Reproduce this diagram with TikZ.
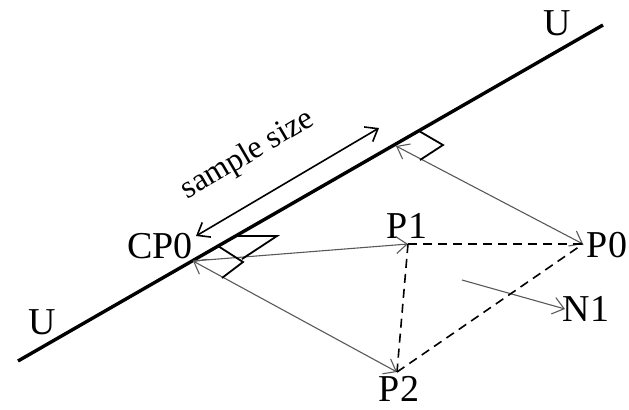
\documentclass[tikz,border=0pt]{standalone}
\usepackage{fontspec}
\setmainfont{Liberation Serif}
\usetikzlibrary{arrows.meta}

\tikzset{
  lbl/.style={font=\fontsize{19}{21}\selectfont, inner sep=0pt},
  ray/.style={draw=black!65, line width=0.55pt, {Straight Barb[length=5.5pt,width=8.5pt]}-{Straight Barb[length=5.5pt,width=8.5pt]}},
  link/.style={line width=0.8pt, dash pattern=on 4.5pt off 3pt},
  rightmark/.style={line width=0.9pt}
}

\begin{document}
\begin{tikzpicture}[x=0.5pt,y=-0.5pt]
\useasboundingbox (0,0) rectangle (629,409);

% the line U and the points
\coordinate (u1) at (18,361);
\coordinate (u2) at (603,25);
\coordinate (cp0) at (193,261);
\coordinate (f0) at (396,146);
\coordinate (p0) at (583,244);
\coordinate (p1) at (408,244);
\coordinate (p2) at (397,372);
\coordinate (n1s) at (462,280);
\coordinate (n1) at (565,309);
\coordinate (s1) at (196,236);
\coordinate (s2) at (379,128);

\draw[line width=1.7pt] (u1) -- (u2);

% labels
\node[lbl] (lblu1) at (42,322) {U};
\node[lbl] (lblu2) at (557,23) {U};
\node[lbl] (lblcp0) at (160,246) {CP0};
\node[lbl] (lblp1) at (407,226) {P1};
\node[lbl] (lblp0) at (607,245) {P0};
\node[lbl] (lblp2) at (399,389) {P2};
\node[lbl] (lbln1) at (586,309) {N1};
\node[font=\fontsize{16}{18}\selectfont, rotate=30.4] (lblsize) at (248,155) {sample size};

% sample size
\draw[ray, draw=black, line width=0.8pt] (s1) -- (s2);

% projections onto U
\draw[ray] (f0) -- (p0);
\draw[ray] (cp0) -- (p2);
\draw[ray, -{Straight Barb[length=5.5pt,width=8.5pt]}] (cp0) -- (p1);
\draw[ray, -{Straight Barb[length=5.5pt,width=8.5pt]}] (n1s) -- (n1);

% right angle marks
\draw[rightmark] (419,131) -- (443,145) -- (420,160);
\draw[rightmark] (218,246) -- (243,262) -- (222,278);
\draw[rightmark] (235,236) -- (277,236) -- (242,259);

% triangle P0 P1 P2
\draw[link] (p1) -- (p0);
\draw[link] (p1) -- (p2);
\draw[link] (p2) -- (p0);
\end{tikzpicture}
\end{document}
